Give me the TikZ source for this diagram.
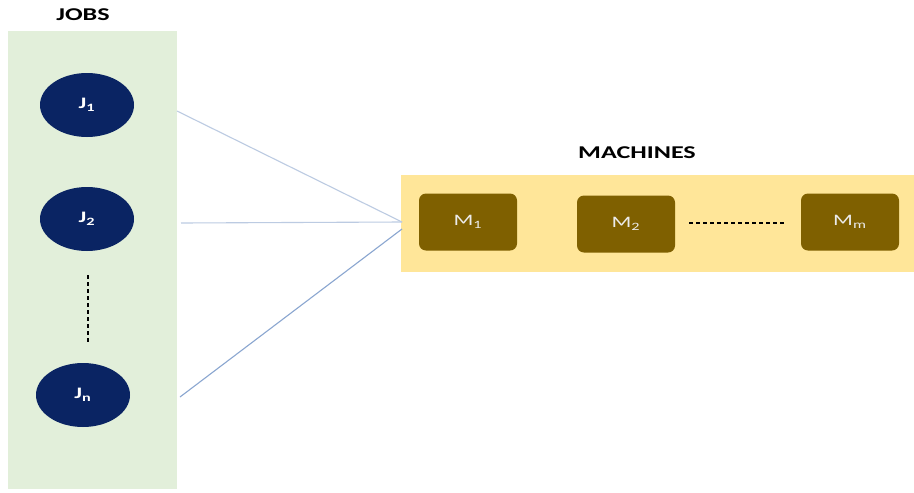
\documentclass[tikz,border=0pt]{standalone}
\usepackage{fontspec}
\usepackage{graphicx}
\setmainfont{Carlito}
\usetikzlibrary{shapes.geometric}
\definecolor{panelgreen}{HTML}{E2EFDA}
\definecolor{panelyellow}{HTML}{FFE699}
\definecolor{jobnavy}{HTML}{0A2463}
\definecolor{machbrown}{HTML}{7F6000}
\definecolor{linkblue}{HTML}{BCCBE2}
\definecolor{linkdark}{HTML}{8AA6D0}
\newcommand{\hstretch}[1]{\scalebox{1.45}[1]{#1}}
\tikzset{
  panel/.style={draw=none, inner sep=0pt},
  jobnode/.style={ellipse, fill=jobnavy, draw=none, minimum width=94pt, minimum height=64pt, text=white, font=\bfseries\fontsize{16}{18}\selectfont, inner sep=0pt},
  machnode/.style={rectangle, rounded corners=7pt, fill=machbrown, draw=none, minimum width=98pt, minimum height=57pt, text=white!92!black, font=\fontsize{16}{18}\selectfont, inner sep=0pt},
  title/.style={font=\bfseries\fontsize{18}{20}\selectfont, text=black},
  link/.style={draw=linkblue, line width=1.1pt},
  dots/.style={draw=black, dash pattern=on 4pt off 3pt, line width=1.4pt}
}
\begin{document}
\begin{tikzpicture}[x=1pt, y=-1pt]
\useasboundingbox (0,0) rectangle (914,493);
\fill[white] (0,0) rectangle (914,493);
% panels
\node[panel, fill=panelgreen, minimum width=169pt, minimum height=458pt, anchor=north west] (jobs) at (8,31) {};
\node[panel, fill=panelyellow, minimum width=513pt, minimum height=97pt, anchor=north west] (machines) at (401,175) {};
% titles
\node[title] (jobstitle) at (83,15) {\hstretch{JOBS}};
\node[title] (machtitle) at (637,153) {\hstretch{MACHINES}};
% jobs
\node[jobnode] (J1) at (87,105) {\hstretch{J\textsubscript{1}}};
\node[jobnode] (J2) at (87,219) {\hstretch{J\textsubscript{2}}};
\node[jobnode] (Jn) at (83,395) {\hstretch{J\textsubscript{n}}};
\coordinate (dtop) at (88,275);
\coordinate (dbot) at (88,342);
\draw[dots] (dtop) -- (dbot);
% machines
\node[machnode] (M1) at (468,222) {\hstretch{M\textsubscript{1}}};
\node[machnode] (M2) at (626,224) {\hstretch{M\textsubscript{2}}};
\node[machnode] (Mm) at (850,222) {\hstretch{M\textsubscript{m}}};
\draw[dots] (M2.east) ++(14pt,1pt) coordinate (hd1) -- ([xshift=-16pt]Mm.west |- hd1) coordinate (hd2);
% links
\coordinate (s1) at (177,111);
\coordinate (s2) at (181,223);
\coordinate (sn) at (180,397);
\coordinate (hub) at (402,222);
\coordinate (hubn) at (402,229);
\draw[link] (s1) -- (hub);
\draw[link] (s2) -- (hub);
\draw[link, draw=linkdark] (sn) -- (hubn);
\end{tikzpicture}
\end{document}
